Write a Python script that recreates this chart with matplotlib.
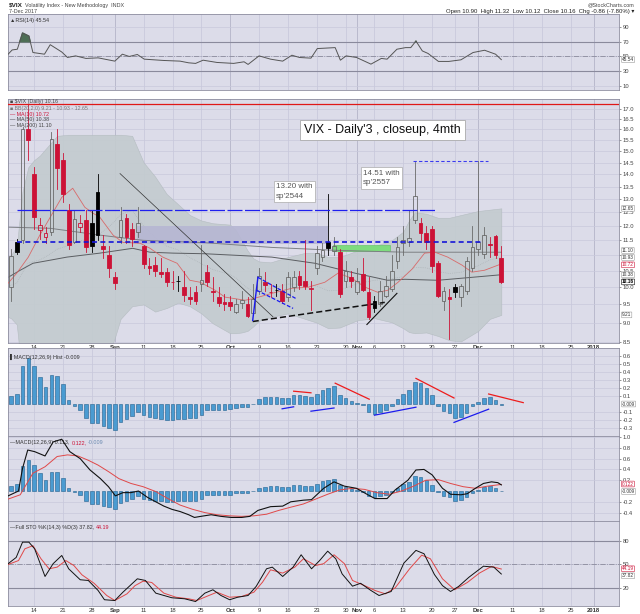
import matplotlib
matplotlib.use("Agg")
import matplotlib.pyplot as plt
import matplotlib.transforms as mtransforms
from matplotlib.patches import Rectangle
from matplotlib.ticker import FixedLocator, FixedFormatter, NullLocator
import numpy as np

plt.rcParams["font.family"] = ["Liberation Sans", "DejaVu Sans"]

W, H = 640, 614

# daily $VIX candles, 8 Aug 2017 .. 7 Dec 2017 (x = trading day number)
opens = [10.00, 11.45, 11.50, 16.00, 14.00, 11.85, 11.60, 11.80, 15.30, 14.60,
         12.60, 11.45, 11.95, 12.20, 12.10, 13.30, 11.30, 11.00, 10.30, 11.60,
         12.30, 11.90, 11.80, 11.30, 10.65, 10.70, 10.48, 10.45, 10.16, 10.19,
         10.00, 9.72, 9.85, 10.10, 10.45, 9.88, 9.70, 9.58, 9.56, 9.30,
         9.53, 9.50, 9.25, 9.90, 10.15, 9.86, 9.92, 9.90, 9.70, 10.00,
         10.35, 10.20, 9.95, 10.60, 10.95, 11.45, 11.15, 11.10, 10.20, 10.30,
         9.85, 10.40, 9.85, 9.60, 9.50, 9.75, 9.95, 10.80, 11.42, 11.45,
         12.20, 12.10, 11.74, 11.90, 10.75, 9.60, 9.72, 10.00, 9.70, 9.90,
         10.60, 11.20, 11.05, 11.36, 11.65, 10.90]
highs = [11.20, 11.55, 16.14, 17.28, 14.30, 12.30, 11.95, 15.90, 16.00, 14.90,
         12.80, 12.60, 12.40, 12.60, 12.60, 14.00, 11.70, 11.30, 10.45, 12.70,
         12.45, 12.10, 12.70, 11.35, 10.90, 10.95, 10.90, 10.60, 10.50, 10.35,
         10.50, 10.00, 10.05, 11.35, 10.70, 10.30, 10.00, 9.80, 9.75, 9.65,
         9.90, 9.70, 10.10, 10.60, 10.45, 10.10, 10.10, 10.10, 10.45, 10.50,
         10.50, 11.50, 10.20, 11.30, 11.40, 13.20, 11.60, 11.20, 10.80, 10.50,
         10.60, 10.90, 10.30, 9.75, 10.20, 10.35, 11.00, 11.60, 12.00, 12.60,
         14.51, 12.30, 12.00, 12.00, 10.80, 10.00, 9.95, 10.10, 10.10, 10.95,
         12.00, 14.58, 11.95, 11.60, 11.70, 11.32]
lows = [9.60, 11.05, 11.40, 14.60, 11.90, 11.55, 11.40, 11.70, 13.40, 12.90,
        11.20, 11.40, 11.80, 11.10, 11.10, 11.50, 10.90, 10.30, 9.95, 11.40,
        11.40, 11.30, 11.60, 10.60, 10.40, 10.35, 10.30, 10.05, 9.95, 9.90,
        9.60, 9.50, 9.50, 9.90, 10.05, 9.60, 9.45, 9.35, 9.35, 9.25,
        9.40, 9.15, 9.20, 9.80, 9.90, 9.70, 9.75, 9.55, 9.60, 9.90,
        9.95, 9.95, 9.35, 10.40, 10.80, 11.00, 11.00, 9.70, 10.00, 10.00,
        9.80, 9.90, 9.10, 9.30, 9.45, 9.70, 9.90, 10.60, 11.00, 11.30,
        12.10, 11.50, 11.20, 10.45, 9.70, 9.35, 8.56, 9.70, 9.45, 9.80,
        10.50, 11.00, 10.90, 10.95, 10.90, 10.12]
closes = [10.96, 11.11, 16.04, 15.51, 12.33, 12.04, 11.74, 15.55, 14.26, 13.19,
          11.35, 12.25, 12.10, 11.28, 11.32, 11.70, 11.22, 10.59, 10.13, 12.23,
          11.63, 11.55, 12.12, 10.73, 10.58, 10.50, 10.40, 10.17, 10.15, 10.18,
          9.78, 9.67, 9.59, 10.21, 10.17, 9.87, 9.55, 9.51, 9.45, 9.51,
          9.63, 9.19, 9.65, 10.33, 10.08, 9.85, 9.91, 9.61, 10.31, 10.31,
          10.07, 10.05, 9.97, 11.07, 11.16, 11.23, 11.30, 9.80, 10.50, 10.18,
          10.20, 9.93, 9.14, 9.40, 9.89, 10.03, 10.50, 11.29, 11.50, 11.59,
          13.13, 11.76, 11.43, 10.65, 9.73, 9.88, 9.67, 9.87, 10.03, 10.80,
          11.28, 11.43, 11.68, 11.33, 11.02, 10.16]

# overlays (x in trading days)
ma10_x = [-0.5, 1, 3, 5, 6.8, 8.8, 10.7, 12.8, 14.2, 15.4, 17.7, 19.4, 22.4, 24.1, 26.3,
          28.8, 31, 32.8, 35.4, 37.1, 40.6, 42.3, 45.2, 48.7, 51.5, 54.4, 56.7, 59.1,
          61.4, 63.6, 65.3, 67.1, 69.5, 71.7, 73.5, 75.7, 78.2, 79.9, 82.1, 85]
ma10 = [10.12, 10.43, 10.94, 11.68, 12.32, 13.07, 13.43, 12.69, 12.47, 12.32, 11.68,
        11.43, 11.40, 11.23, 10.94, 10.74, 10.21, 10.15, 9.91, 9.71, 9.62, 9.68, 9.82,
        9.97, 10.00, 10.15, 10.43, 10.27, 10.00, 9.85, 9.91, 10.15, 10.55, 11.07, 11.10,
        10.94, 10.68, 10.46, 10.52, 10.72]
ma50_x = [-0.5, 1.6, 3.8, 6.8, 9.7, 15.4, 21.1, 24.1, 28.1, 33.6, 45.2, 52.7, 59.6,
          65.3, 68.3, 74, 79.9, 85]
ma50 = [10.30, 10.52, 10.74, 10.84, 10.94, 11.07, 11.23, 11.10, 11.07, 11.05, 10.94,
        10.74, 10.43, 10.21, 10.24, 10.21, 10.30, 10.38]
ma200_x = [-0.5, 6.8, 15.4, 22.9, 33.6, 45.2, 56.7, 68.3, 85]
ma200 = [11.96, 11.92, 11.68, 11.50, 11.42, 11.26, 11.16, 11.10, 11.10]
bb_x = [-0.5, 0, 1, 2, 3, 4, 5, 6, 8, 10, 12, 15, 17, 18, 19, 21, 23, 25, 27, 29, 31, 33,
        35, 38, 39, 40, 41, 42, 43, 45, 48, 51, 53, 55, 57, 60, 63, 66, 68, 69, 70, 72,
        74, 76, 78, 81, 83, 85]
bb_upper = [10.9, 11.0, 11.3, 13.3, 14.3, 14.6, 14.8, 15.1, 15.7, 15.75, 15.75, 15.75,
            15.75, 15.75, 15.75, 15.7, 14.5, 13.9, 13.2, 12.8, 12.4, 12.2, 12.1, 12.05,
            11.85, 11.5, 11.16, 10.9, 10.8, 10.77, 10.94, 11.08, 11.07, 10.94, 10.94,
            11.15, 11.3, 11.5, 11.8, 12.2, 12.5, 12.45, 12.3, 12.3, 12.4, 12.55, 12.6,
            12.65]
bb_lower = [9.15, 9.12, 8.95, 7.6, 7.2, 7.0, 6.9, 6.8, 6.7, 6.9, 7.2, 7.6, 8.2, 8.6,
            9.1, 9.45, 9.5, 9.3, 9.4, 9.55, 9.45, 9.25, 8.98, 8.72, 8.72, 8.74, 8.78,
            8.9, 9.05, 9.15, 9.25, 9.1, 9.0, 8.85, 8.87, 9.06, 9.12, 9.01, 8.85, 8.75,
            8.72, 8.74, 8.65, 8.54, 8.51, 8.78, 9.1, 9.21]

rsi_x = [-0.5, 0.2, 1.1, 2, 3.1, 3.8, 5.8, 6.8, 8.8, 9.8, 11.2, 13, 15.1, 18, 19.3, 20.5,
         21.9, 23.1, 26.5, 29.3, 30.8, 32, 33.3, 35.7, 38.6, 40.4, 41.1, 43, 45, 47.1,
         48.7, 50, 52, 53.1, 56.2, 57.1, 58.1, 59.9, 62.4, 64.2, 65.2, 66.9, 68.4, 69.3,
         70.2, 71.3, 72.3, 74.1, 75.9, 78, 80.1, 82.1, 84, 85]
rsi = [53, 58.8, 59.8, 82, 77.8, 55.3, 53, 66, 56, 48.5, 50.7, 47.2, 48, 43.5, 53, 49.9,
       52.6, 46.2, 44.4, 43.5, 41.2, 40.4, 44.8, 41.7, 40.4, 42.6, 39, 50.7, 46.2, 43.5,
       51.6, 48.5, 47.6, 60.7, 62, 44.8, 50.7, 48.5, 39.4, 47.2, 46.2, 59.8, 62, 62,
       71, 57.5, 54, 43.1, 43.1, 45.3, 55.3, 58.4, 53, 45.54]

macd_hist = [0.10, 0.13, 0.47, 0.58, 0.48, 0.34, 0.21, 0.36, 0.35, 0.25,
             0.05, -0.025, -0.08, -0.18, -0.24, -0.24, -0.27, -0.30, -0.33, -0.23,
             -0.19, -0.15, -0.10, -0.14, -0.16, -0.18, -0.19, -0.20, -0.20, -0.19,
             -0.19, -0.18, -0.18, -0.14, -0.08, -0.075, -0.075, -0.075, -0.067, -0.046,
             -0.033, -0.033, -0.005, 0.06, 0.083, 0.09, 0.09, 0.07, 0.08, 0.11,
             0.11, 0.10, 0.09, 0.13, 0.18, 0.20, 0.22, 0.11, 0.08, 0.04,
             0.017, -0.01, -0.10, -0.12, -0.10, -0.08, -0.025, 0.06, 0.125, 0.175,
             0.28, 0.26, 0.20, 0.11, -0.02, -0.09, -0.11, -0.18, -0.16, -0.11,
             -0.03, 0.02, 0.07, 0.085, 0.05, -0.009]
macd_x = [-0.5, 1.3, 2.0, 2.9, 4.1, 5.9, 7.3, 8.8, 10.2, 12.0, 13.7, 15.5, 16.9, 18.1,
          19.4, 20.8, 22.1, 23.7, 25.1, 26.5, 27.9, 29.3, 30.8, 31.8, 32.9, 34.7, 36.4,
          38.2, 40.0, 41.4, 42.8, 45.0, 47.1, 48.5, 50.7, 52.1, 54.2, 56.0, 57.8, 59.9,
          61.7, 63.1, 65.2, 66.6, 68.8, 70.2, 71.6, 73.0, 74.8, 76.2, 78.0, 79.1, 80.5,
          81.9, 83.3, 84.4, 85.0]
macd_line = [-0.09, 0.0, 0.42, 0.76, 0.73, 0.65, 0.91, 0.96, 0.73, 0.60, 0.39, 0.23,
             0.08, -0.09, -0.03, -0.03, 0.0, -0.12, -0.20, -0.28, -0.34, -0.38, -0.44,
             -0.49, -0.47, -0.44, -0.47, -0.49, -0.49, -0.47, -0.36, -0.29, -0.28, -0.20,
             -0.17, -0.16, 0.05, 0.17, 0.09, 0.05, -0.06, -0.14, -0.14, 0.02, 0.20, 0.39,
             0.40, 0.30, 0.05, -0.06, -0.07, -0.05, 0.05, 0.14, 0.17, 0.155, 0.113]
signal_x = [-0.5, 1.6, 3.8, 5.9, 8.0, 9.8, 11.6, 13.4, 15.1, 16.9, 18.7, 20.8, 22.9, 25.1,
            27.2, 29.3, 31.5, 33.6, 35.7, 37.9, 40.0, 42.1, 44.3, 46.4, 48.5, 50.7, 52.8,
            54.9, 57.0, 59.2, 61.3, 63.4, 65.6, 67.7, 69.8, 71.9, 74.1, 76.2, 78.4, 80.5,
            82.6, 85.0]
signal_line = [-0.15, -0.07, 0.33, 0.45, 0.64, 0.67, 0.65, 0.57, 0.48, 0.36, 0.23, 0.14,
               0.08, -0.01, -0.14, -0.26, -0.34, -0.40, -0.44, -0.46, -0.47, -0.46, -0.43,
               -0.36, -0.30, -0.24, -0.15, -0.06, 0.02, 0.05, 0.03, -0.03, -0.06, 0.0, 0.09,
               0.20, 0.21, 0.14, 0.08, 0.05, 0.09, 0.122]

stok_x = [-0.5, 0.9, 2.0, 3.1, 4.1, 5.9, 7.3, 8.8, 10.0, 12.0, 13.4, 15.1, 16.2, 18.0,
          19.4, 21.9, 23.3, 25.1, 27.9, 30.1, 32.0, 33.6, 35.0, 36.4, 37.9, 39.3, 41.1,
          42.5, 44.3, 45.3, 47.1, 48.9, 50.3, 52.1, 53.5, 54.9, 56.3, 57.4, 59.2, 60.6,
          62.4, 63.8, 65.9, 68.1, 70.2, 71.6, 73.4, 74.8, 76.2, 77.6, 79.4, 81.9, 83.7, 85.0]
stok = [51, 59, 78.5, 78.5, 70, 34.7, 51, 61.5, 44.5, 30.5, 29.6, 16.8, 5, 4, 14.6, 31.7,
        29.6, 13.4, 7.5, 6.2, 2.7, 13.4, 17.7, 10.4, 5, 8.2, 10.4, 22, 44.5, 46.6, 34.7,
        46.6, 62.4, 44.5, 55, 67, 57.3, 38, 22.3, 26, 16.8, 10.4, 15.5, 51.7, 68, 63.7,
        37.2, 23, 15.5, 22, 33.8, 47.8, 46.6, 37.82]
stod_x = [-0.5, 1.3, 2.4, 3.8, 5.2, 6.6, 8.0, 9.5, 10.9, 12.3, 14.4, 16.6, 18.0, 20.1,
          21.5, 22.9, 24.4, 26.5, 28.6, 30.8, 32.2, 34.3, 35.7, 37.9, 40.0, 42.1, 43.6,
          45.0, 47.1, 49.2, 50.7, 52.8, 54.2, 56.0, 57.8, 59.2, 61.3, 63.1, 64.9, 66.6,
          69.1, 71.2, 72.7, 74.8, 76.9, 79.1, 81.2, 83.3, 85.0]
stod = [50, 55, 70, 74, 57.3, 44.5, 46.6, 55, 48.7, 36.8, 26, 10.4, 4, 12.5, 23, 28.7, 27,
        13.4, 8.2, 6.2, 4, 10.4, 14.6, 8.2, 9.2, 14.6, 27.4, 43.2, 39, 46.6, 57.3, 48.7,
        51, 62.4, 51, 29.6, 23, 16.8, 12.5, 20.2, 44.5, 61.9, 57.3, 31.7, 17.7, 27, 39,
        47.5, 44.19]

tick_idx = [4, 9, 14, 18, 23, 28, 33, 38, 43, 48, 53, 58, 60, 63, 68, 73, 77, 81,
            87, 92, 97, 101]
tick_lbl = ["14", "21", "28", "Sep", "11", "18", "25", "Oct", "9", "16", "23", "30",
            "Nov", "6", "13", "20", "27", "Dec", "11", "18", "25", "2018"]
months = ["Sep", "Oct", "Nov", "Dec", "2018"]

# hand drawn annotations (x in trading days, y in index points)
trend_down = ([18.9, 45.4], [14.03, 9.16])
trend_base = ([41.9, 64.8], [9.03, 9.56])
trend_up = ([61.7, 66.9], [8.95, 9.82])
flag_pole = ([41.9, 42.8], [9.06, 10.30])
flag_top = ([42.8, 49.6], [10.30, 9.65])
flag_bot = ([42.6, 48.9], [9.91, 9.39])
hist_red = [([49, 52], [0.16, 0.14]), ([56.2, 62.1], [0.26, 0.06]),
            ([70.2, 76.8], [0.32, 0.075]), ([82.8, 88.8], [0.125, 0.017])]
hist_blue = [([47, 49], [-0.06, -0.035]), ([52, 56], [-0.09, -0.05]),
             ([63, 70.2], [-0.14, -0.04]), ([76.8, 82.8], [-0.23, -0.065])]

BG = "#dcdce9"
GRID = "#c9c9dc"
RED = "#cc1236"
XL = (-0.52, 105.4)


def panel(top, bottom):
    ax = fig.add_axes([8 / W, 1 - bottom / H, 611 / W, (bottom - top) / H])
    ax.set_facecolor(BG)
    ax.set_xlim(*XL)
    for s in ax.spines.values():
        s.set_color("#8e8ea0")
        s.set_linewidth(0.6)
    for t, l in zip(tick_idx, tick_lbl):
        ax.axvline(t, color="#b4b4c8" if l in months else GRID, lw=0.6, zorder=0)
    ax.xaxis.set_major_locator(FixedLocator(tick_idx))
    ax.xaxis.set_major_formatter(FixedFormatter(tick_lbl))
    ax.tick_params(axis="x", length=0, labelsize=4.2, pad=1.5, colors="#333333")
    ax.tick_params(axis="y", length=1.5, labelsize=4.2, pad=1.2, colors="#444444",
                   right=True, left=False, labelright=True, labelleft=False, width=0.4)
    return ax


def set_yticks(ax, vals, fmt, hidden=()):
    ax.yaxis.set_major_locator(FixedLocator(vals))
    labels = ["" if (fmt % v) in hidden else fmt % v for v in vals]
    ax.yaxis.set_major_formatter(FixedFormatter(labels))
    ax.yaxis.set_minor_locator(NullLocator())
    for v in vals:
        ax.axhline(v, color=GRID, lw=0.5, zorder=0)


def dates(ax, show):
    if not show:
        ax.tick_params(axis="x", labelbottom=False)
        return
    for lab in ax.get_xticklabels():
        if lab.get_text() in months:
            lab.set_fontweight("bold")


def vbox(ax, y, text, color="#333333", ec="#999999", weight="normal"):
    tr = mtransforms.blended_transform_factory(ax.transAxes, ax.transData)
    ax.text(1.005, y, text, transform=tr, fontsize=3.4, va="center", ha="left",
            color=color, fontweight=weight, clip_on=False, zorder=10,
            bbox=dict(boxstyle="round,pad=0.08", fc="white", ec=ec, lw=0.4))


def ftext(x, y, s, **kw):
    fig.text(x / W, 1 - y / H, s, va="center", **kw)


def chain(ax, y, parts):
    # legend line made of several coloured pieces, laid out one after another
    renderer = fig.canvas.get_renderer()
    x = 0.004
    for s, col in parts:
        t = ax.text(x, y, s, transform=ax.transAxes, fontsize=3.9, color=col, va="top")
        bb = t.get_window_extent(renderer)
        x = ax.transAxes.inverted().transform((bb.x1 + 1.5, bb.y0))[0]


fig = plt.figure(figsize=(6.4, 6.14), dpi=100)
fig.patch.set_facecolor("white")

# ---- header
ftext(9, 5, "$VIX", fontsize=4.6, fontweight="bold", color="#222222")
ftext(25, 5, "Volatility Index - New Methodology  INDX", fontsize=3.9, color="#444444")
ftext(9, 11.5, "7-Dec 2017", fontsize=3.9, color="#444444")
ftext(634, 5, "@StockCharts.com", fontsize=3.9, color="#444444", ha="right")
ftext(634, 11.5, "Open 10.90  High 11.32  Low 10.12  Close 10.16  Chg -0.86 (-7.80%) \u25be",
      fontsize=4.3, color="#222222", ha="right")

# ---- RSI
ax1 = panel(14, 90)
ax1.set_ylim(4, 108)
set_yticks(ax1, [90, 70, 50, 30, 10], "%d")
for lv in (70, 30):
    ax1.axhline(lv, color="#8a8a9c", lw=0.8, zorder=1)
ax1.axhline(50, color="#8a8a9c", lw=0.6, ls="-.", zorder=1)
ax1.plot(rsi_x, rsi, color="#555555", lw=0.7, zorder=3)
ax1.fill_between(rsi_x, rsi, 70, where=np.array(rsi) > 70, interpolate=True,
                 color="#4d6e55", zorder=2)
dates(ax1, False)
vbox(ax1, rsi[-1], "45.54")
chain(ax1, 0.95, [("\u25b2RSI(14) 45.54", "#333333")])

# ---- price
ax2 = panel(99, 343)
ax2.set_yscale("log")
ax2.set_ylim(8.47, 17.52)
set_yticks(ax2, list(np.arange(8.5, 17.01, 0.5)), "%.1f", hidden=("11.0",))
dates(ax2, True)
ax2.fill_between(bb_x, bb_lower, bb_upper, color="#c3cbcf", alpha=0.9, lw=0.4,
                 edgecolor="#b2babe", zorder=1)
bb_mid = (np.array(bb_upper) + np.array(bb_lower)) / 2
ax2.plot(bb_x, bb_mid, color="#a9b0b4", lw=0.5, ls=":", zorder=2)
ax2.add_patch(Rectangle((21.8, 11.36), 33.2, 0.64, fc="#b6b6d3", ec="none",
                        alpha=0.9, zorder=2))
ax2.add_patch(Rectangle((55.8, 11.15), 9.9, 0.18, fc="#7edc7e", ec="#5cc05c", lw=0.4,
                        zorder=2))
ax2.plot(ma200_x, ma200, color="#7d8084", lw=0.7, zorder=2)
ax2.plot(ma50_x, ma50, color="#5b5e62", lw=0.7, zorder=2)
ax2.plot(ma10_x, ma10, color="#d86a6a", lw=0.6, zorder=3)

for i, (o, h, l, c) in enumerate(zip(opens, highs, lows, closes)):
    prev = closes[i - 1] if i > 0 else o
    is_red = c < prev
    hollow = c >= o
    if is_red:
        edge = RED
    else:
        edge = "#6a6a6a" if hollow else "#000000"
    face = "none" if hollow else edge
    lo_b, hi_b = min(o, c), max(o, c)
    ax2.plot([i, i], [l, lo_b], color=edge, lw=0.6, zorder=4)
    ax2.plot([i, i], [hi_b, h], color=edge, lw=0.6, zorder=4)
    ax2.add_patch(Rectangle((i - 0.32, lo_b), 0.64, max(hi_b - lo_b, 0.02), fc=face,
                            ec=edge, lw=0.6, zorder=5))

ax2.axhline(17.28, color="#e01818", lw=0.9, zorder=6)
ax2.plot([1, 73.8], [12.58, 12.58], color="#1f1fef", lw=0.9, ls=(0, (12, 2)), zorder=6)
ax2.plot([1, 81.6], [11.44, 11.44], color="#1616d8", lw=1.2, ls=(0, (3, 2)), zorder=6)
ax2.plot([69.7, 82.7], [14.58, 14.58], color="#3a3af0", lw=0.8, ls=(0, (3, 2)), zorder=6)
ax2.plot(*trend_down, color="#333333", lw=0.5, zorder=6)
ax2.plot(*trend_base, color="#111111", lw=1.1, ls=(0, (4, 2)), zorder=6)
ax2.plot(*trend_up, color="#111111", lw=0.8, zorder=6)
ax2.plot(*flag_pole, color="#1a1aef", lw=1.0, zorder=6)
ax2.plot(*flag_top, color="#1a1aef", lw=0.9, ls=(0, (3, 1.5)), zorder=6)
ax2.plot(*flag_bot, color="#1a1aef", lw=0.9, ls=(0, (3, 1.5)), zorder=6)

vbox(ax2, 12.65, "12.65")
vbox(ax2, 11.16, "11.10")
vbox(ax2, 10.93, "10.93")
vbox(ax2, 10.69, "10.72", color=RED, ec=RED)
vbox(ax2, 10.38, "10.38")
vbox(ax2, 10.16, "10.16", color="#000000", ec="#000000", weight="bold")
vbox(ax2, 9.21, "9.21")

ftext(10, 102, "\u25a0 $VIX (Daily) 10.16", fontsize=3.8, color="#444444")
ftext(10, 108.5, "\u25a0 BB(20,2.0) 9.21 - 10.93 - 12.65", fontsize=3.8, color="#777777")
ftext(10, 114.5, "\u2014 MA(10) 10.72", fontsize=3.8, color=RED)
ftext(10, 120, "\u2014 MA(50) 10.38", fontsize=3.8, color="#444444")
ftext(10, 125.5, "\u2014 MA(200) 11.10", fontsize=3.8, color="#444444")

box = dict(boxstyle="square,pad=0.35", fc="white", ec="#aaaaaa", lw=0.6)
ftext(304, 130, "VIX - Daily'3 , closeup, 4mth", fontsize=9, color="#111111", bbox=box)
box2 = dict(boxstyle="square,pad=0.3", fc="white", ec="#aaaaaa", lw=0.5)
ftext(276, 191.5, "13.20 with\nsp'2544", fontsize=5.8, color="#555555", bbox=box2,
      linespacing=1.5)
ftext(363, 178, "14.51 with\nsp'2557", fontsize=5.8, color="#555555", bbox=box2,
      linespacing=1.5)

# ---- MACD histogram
ax3 = panel(348, 436)
ax3.set_ylim(-0.4, 0.7)
set_yticks(ax3, [0.6, 0.5, 0.4, 0.3, 0.2, 0.1, -0.1, -0.2, -0.3], "%.1f")
dates(ax3, False)
xs = np.arange(len(macd_hist))
ax3.bar(xs, macd_hist, width=0.62, color="#4a9bd1", edgecolor="#22618f", lw=0.4, zorder=3)
for seg in hist_red:
    ax3.plot(*seg, color="#ee1c1c", lw=0.9, zorder=4)
for seg in hist_blue:
    ax3.plot(*seg, color="#1c1cee", lw=0.9, zorder=4)
vbox(ax3, 0.0, "-0.009")
chain(ax3, 0.93, [("\u258cMACD(12,26,9) Hist -0.009", "#333333")])

# ---- MACD
ax4 = panel(436, 521)
ax4.set_ylim(-0.556, 1.02)
set_yticks(ax4, [1.0, 0.8, 0.6, 0.4, 0.2, -0.2, -0.4], "%.1f")
dates(ax4, False)
ax4.bar(xs, macd_hist, width=0.62, color="#4a9bd1", edgecolor="#22618f", lw=0.4, zorder=2)
ax4.plot(signal_x, signal_line, color="#e04848", lw=0.7, zorder=3)
ax4.plot(macd_x, macd_line, color="#111111", lw=0.8, zorder=4)
vbox(ax4, 0.13, "0.122", color=RED, ec=RED)
vbox(ax4, -0.01, "-0.009")
chain(ax4, 0.95, [("\u2014MACD(12,26,9) 0.113,", "#333333"), ("0.122,", RED),
                  ("-0.009", "#6a8ab0")])

# ---- Full stochastics
ax5 = panel(521, 606)
ax5.set_ylim(-3, 105.5)
set_yticks(ax5, [80, 50, 20], "%d")
for lv in (80, 20):
    ax5.axhline(lv, color="#8a8a9c", lw=0.8, zorder=1)
ax5.axhline(50, color="#8a8a9c", lw=0.6, ls="-.", zorder=1)
dates(ax5, True)
ax5.plot(stod_x, stod, color="#e04848", lw=0.7, zorder=3)
ax5.plot(stok_x, stok, color="#111111", lw=0.7, zorder=4)
vbox(ax5, 44.5, "44.19", color=RED, ec=RED)
vbox(ax5, 35.5, "37.82")
chain(ax5, 0.95, [("\u2014Full STO %K(14,3) %D(3) 37.82,", "#333333"), ("44.19", RED)])

fig.savefig("out.png", dpi=100, facecolor="white")
